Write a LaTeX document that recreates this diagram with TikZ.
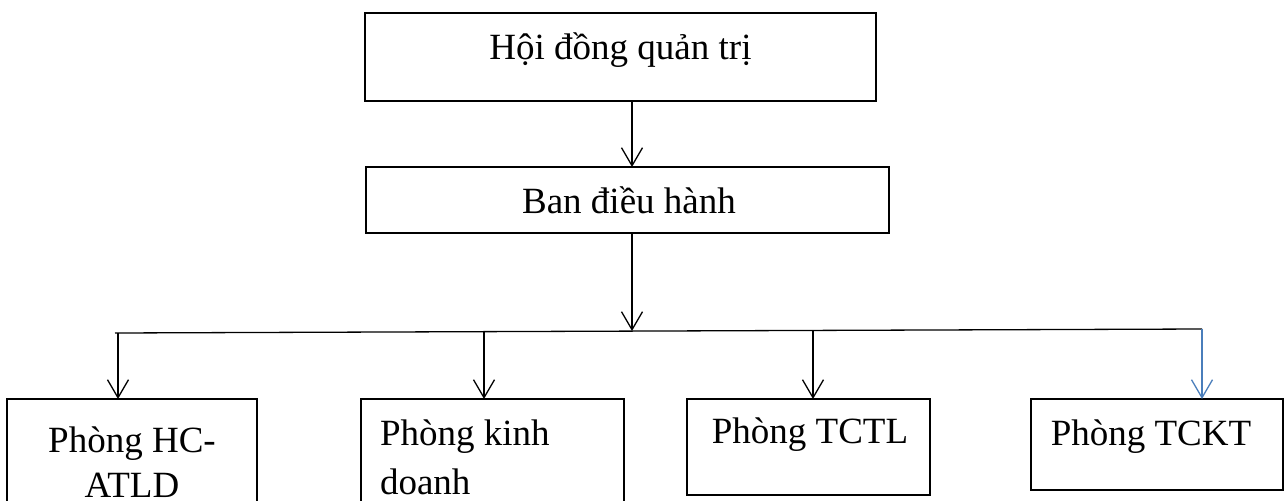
\documentclass[tikz,border=0pt]{standalone}
\usepackage{fontspec}
\setmainfont{Liberation Serif}
\usetikzlibrary{arrows.meta}
\definecolor{linkblue}{RGB}{74,126,187}
\tikzset{
  orgbox/.style={draw=black, line width=1.3pt, rectangle, inner sep=0pt, outer sep=0pt},
  lbl/.style={inner sep=0pt, outer sep=0pt, anchor=base, font=\fontsize{37}{45}\selectfont},
  conn/.style={line width=1.3pt, draw=black},
  arr/.style={conn, -{Straight Barb[length=18pt, width=21pt, line width=1.3pt]}},
  bluearr/.style={arr, draw=linkblue, color=linkblue}
}
\begin{document}
\begin{tikzpicture}[x=1pt, y=-1pt]
  \useasboundingbox (0,0) rectangle (1286,501);
  \clip (0,0) rectangle (1286,501);
  \fill[white] (0,0) rectangle (1286,501);

  % boards
  \node[orgbox, minimum width=511pt, minimum height=88pt] (hdqt) at (620.5,57) {};
  \node[lbl] (hdqtT) at (620.5,59) {Hội đồng quản trị};

  \node[orgbox, minimum width=523pt, minimum height=66pt] (ban) at (627.5,200) {};
  \node[lbl] (banT) at (629,213) {Ban điều hành};

  % departments
  \node[orgbox, minimum width=250pt, minimum height=130pt] (p1) at (132,464) {};
  \node[lbl] (p1a) at (132,452) {Phòng HC-};
  \node[lbl] (p1b) at (132,497) {ATLD};

  \node[orgbox, minimum width=263pt, minimum height=130pt] (p2) at (492.5,464) {};
  \node[lbl, anchor=base west] (p2a) at (380,445) {Phòng kinh};
  \node[lbl, anchor=base west] (p2b) at (380,494) {doanh};

  \node[orgbox, minimum width=243pt, minimum height=96pt] (p3) at (808.5,447) {};
  \node[lbl] (p3T) at (810,443) {Phòng TCTL};

  \node[orgbox, minimum width=252pt, minimum height=91pt] (p4) at (1157,444.5) {};
  \node[lbl] (p4T) at (1151,445) {Phòng TCKT};

  % trunk and bus
  \coordinate (trunk) at (632,0);
  \coordinate (busL) at (115,333);
  \coordinate (busR) at (1202,329);
  \coordinate (bus1) at (118,333);
  \coordinate (bus2) at (484,332);
  \coordinate (bus3) at (813,331);
  \coordinate (busT) at (632,331);
  \coordinate (bus4) at (1202,329);

  \draw[arr] (trunk |- hdqt.south) -- (trunk |- ban.north);
  \draw[arr] (trunk |- ban.south) -- (busT);
  \draw[conn] (busL) -- (busR);

  \draw[arr] (bus1) -- (bus1 |- p1.north);
  \draw[arr] (bus2) -- (bus2 |- p2.north);
  \draw[arr] (bus3) -- (bus3 |- p3.north);
  \draw[bluearr] (bus4) -- (bus4 |- p4.north);
\end{tikzpicture}
\end{document}
